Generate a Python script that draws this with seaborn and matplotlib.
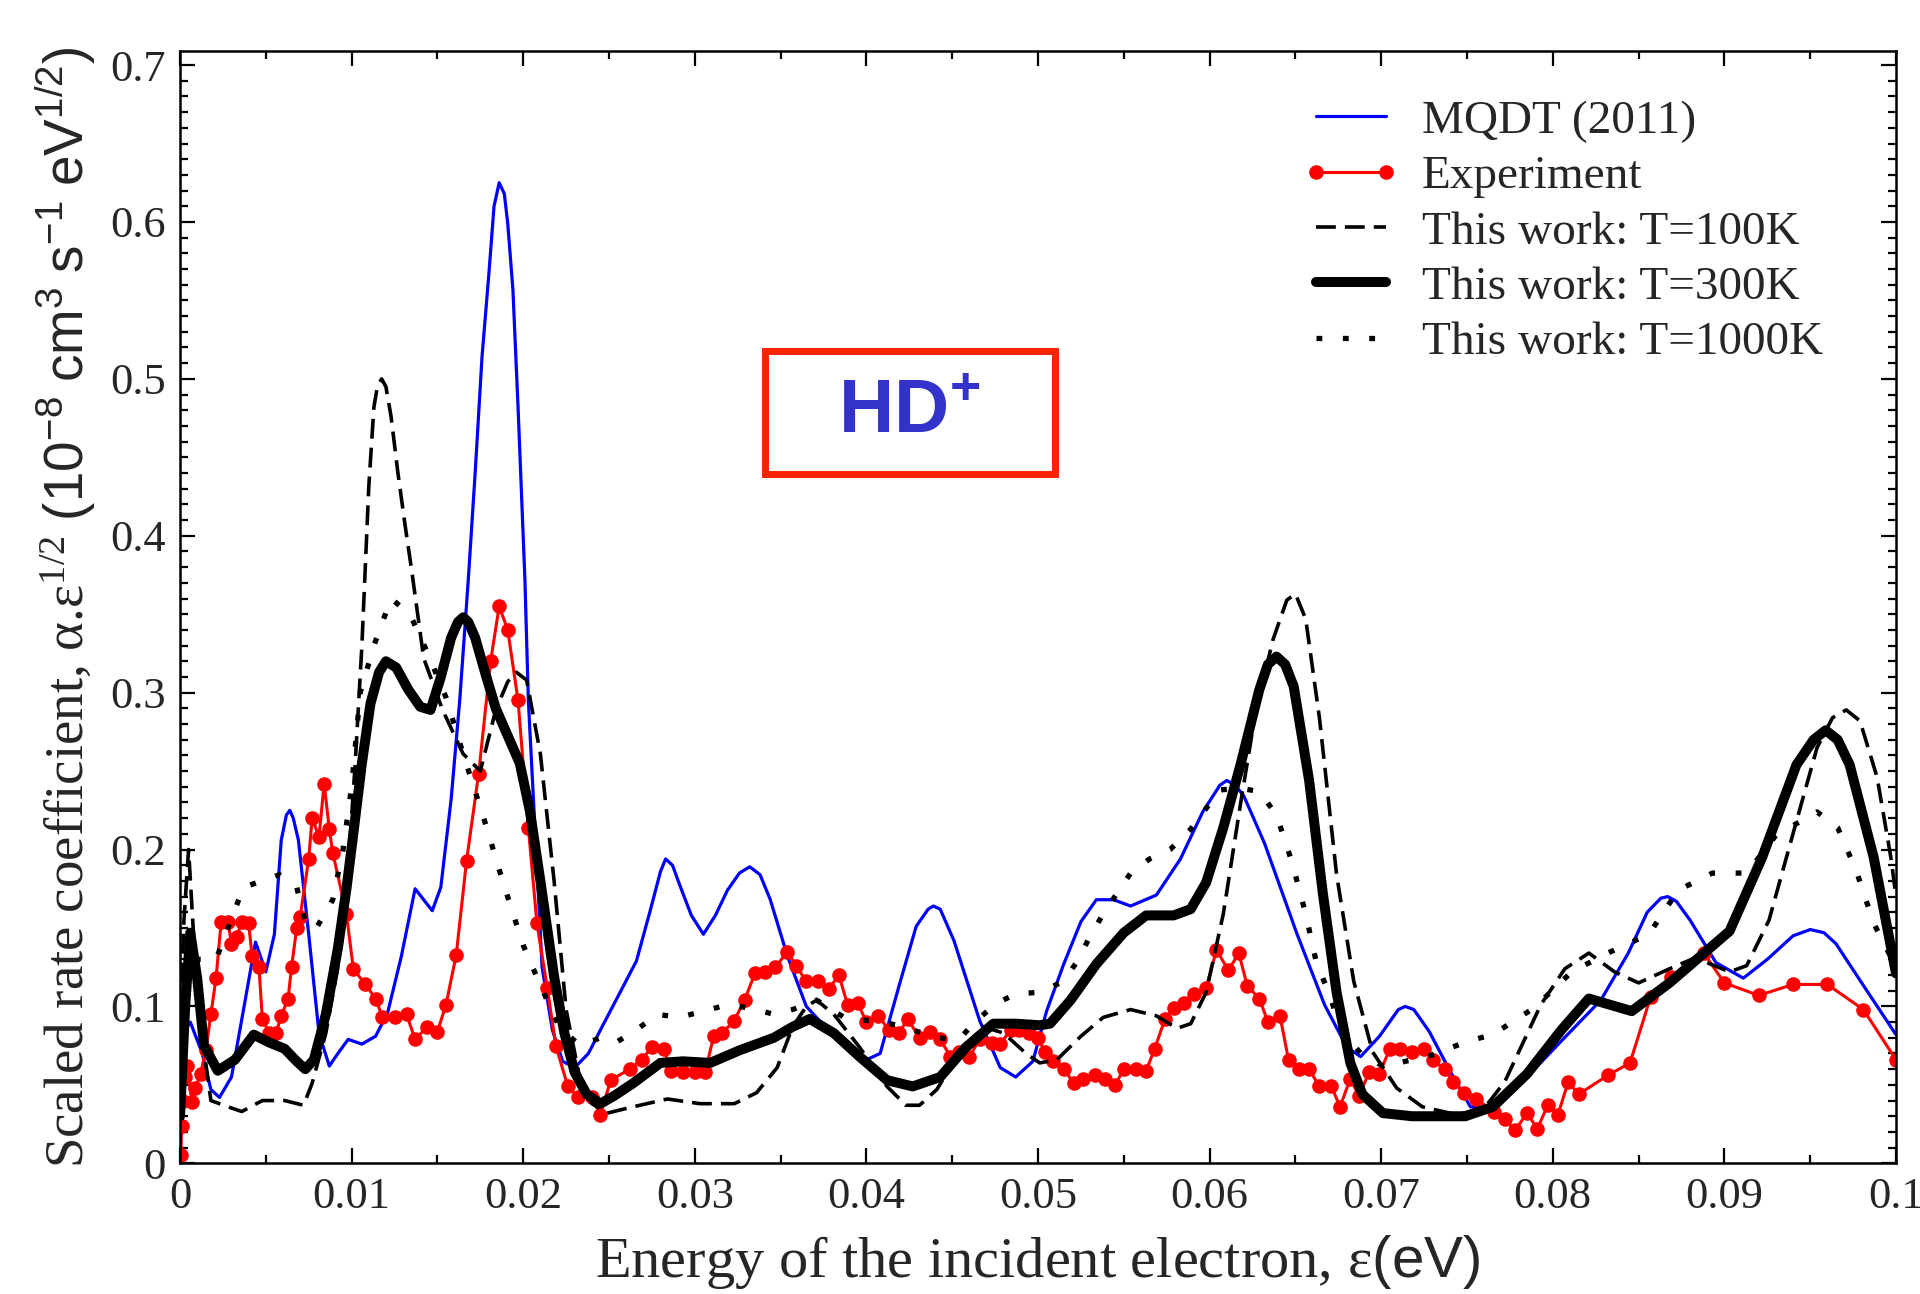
import matplotlib
matplotlib.use("Agg")
import matplotlib.pyplot as plt
import seaborn as sns
from matplotlib.patches import Rectangle
from matplotlib.ticker import FixedLocator, MultipleLocator

# ---------------- data ----------------
E_MQDT = [0.0, 0.0003, 0.0006, 0.0013, 0.0018, 0.0023, 0.0030, 0.0038, 0.0044, 0.0050,
          0.0055, 0.0059, 0.0062, 0.0064, 0.0066, 0.0069, 0.0075, 0.0081, 0.0087, 0.0092,
          0.0098, 0.0106, 0.0114, 0.0121, 0.0129, 0.0137, 0.0142, 0.0147, 0.0152, 0.0158,
          0.0163, 0.0168, 0.0172, 0.0176, 0.0180, 0.0183, 0.0186, 0.0189, 0.0191, 0.0194,
          0.0197, 0.0201, 0.0203, 0.0207, 0.0211, 0.0217, 0.0223, 0.0230, 0.0238, 0.0245,
          0.0256, 0.0266, 0.0274, 0.0280, 0.0283, 0.0287, 0.0291, 0.0298, 0.0305, 0.0312,
          0.0319, 0.0326, 0.0332, 0.0338, 0.0344, 0.0354, 0.0365, 0.0381, 0.0400, 0.0408,
          0.0419, 0.0429, 0.0436, 0.0439, 0.0443, 0.0451, 0.0466, 0.0478, 0.0487, 0.0497,
          0.0505, 0.0515, 0.0525, 0.0534, 0.0544, 0.0554, 0.0569, 0.0583, 0.0596, 0.0606,
          0.0610, 0.0615, 0.0620, 0.0632, 0.0651, 0.0667, 0.0680, 0.0688, 0.0699, 0.0710,
          0.0714, 0.0719, 0.0728, 0.0740, 0.0752, 0.0767, 0.0785, 0.0805, 0.0828, 0.0844,
          0.0855, 0.0863, 0.0867, 0.0872, 0.0880, 0.0895, 0.0911, 0.0925, 0.0940, 0.0950,
          0.0958, 0.0965, 0.0980, 0.1000]
V_MQDT = [0.060, 0.085, 0.090, 0.070, 0.047, 0.042, 0.055, 0.104, 0.141, 0.122,
          0.146, 0.206, 0.222, 0.225, 0.220, 0.206, 0.146, 0.083, 0.062, 0.070,
          0.079, 0.076, 0.081, 0.096, 0.132, 0.175, 0.168, 0.161, 0.176, 0.232,
          0.295, 0.372, 0.440, 0.514, 0.567, 0.610, 0.625, 0.618, 0.599, 0.557,
          0.482, 0.372, 0.295, 0.210, 0.125, 0.085, 0.065, 0.061, 0.070, 0.085,
          0.108, 0.129, 0.161, 0.186, 0.194, 0.190, 0.178, 0.158, 0.146, 0.158,
          0.174, 0.185, 0.189, 0.184, 0.168, 0.132, 0.100, 0.081, 0.066, 0.070,
          0.113, 0.151, 0.162, 0.164, 0.162, 0.142, 0.091, 0.061, 0.055, 0.065,
          0.097, 0.127, 0.154, 0.168, 0.168, 0.164, 0.171, 0.194, 0.224, 0.241,
          0.244, 0.241, 0.234, 0.204, 0.146, 0.101, 0.074, 0.068, 0.081, 0.098,
          0.100, 0.098, 0.084, 0.059, 0.036, 0.035, 0.055, 0.078, 0.104, 0.134,
          0.160, 0.169, 0.170, 0.167, 0.155, 0.128, 0.118, 0.130, 0.145, 0.149,
          0.147, 0.140, 0.115, 0.082]

E_EXP = [0.00005, 0.0001, 0.0002, 0.0003, 0.0004, 0.0007, 0.0009, 0.0012, 0.0015, 0.0018,
         0.0021, 0.0024, 0.0028, 0.0030, 0.0033, 0.0036, 0.0040, 0.0042, 0.0046, 0.0048,
         0.0052, 0.0056, 0.0059, 0.0063, 0.0065, 0.0068, 0.0070, 0.0075, 0.0077, 0.0081,
         0.0084, 0.0087, 0.0089, 0.0097, 0.0101, 0.0108, 0.0114, 0.0118, 0.0125, 0.0132,
         0.0137, 0.0144, 0.0150, 0.0155, 0.0161, 0.0167, 0.0174, 0.0181, 0.0186, 0.0191,
         0.0197, 0.0203, 0.0208, 0.0214, 0.0219, 0.0226, 0.0232, 0.0240, 0.0245, 0.0251,
         0.0262, 0.0269, 0.0275, 0.0282, 0.0286, 0.0293, 0.0300, 0.0306, 0.0311, 0.0316,
         0.0323, 0.0329, 0.0335, 0.0341, 0.0347, 0.0354, 0.0359, 0.0365, 0.0372, 0.0378,
         0.0384, 0.0389, 0.0395, 0.0400, 0.0407, 0.0413, 0.0419, 0.0424, 0.0431, 0.0437,
         0.0443, 0.0449, 0.0454, 0.0460, 0.0466, 0.0473, 0.0478, 0.0484, 0.0489, 0.0495,
         0.0500, 0.0504, 0.0509, 0.0515, 0.0521, 0.0526, 0.0533, 0.0539, 0.0545, 0.0550,
         0.0557, 0.0563, 0.0568, 0.0574, 0.0579, 0.0585, 0.0591, 0.0598, 0.0604, 0.0611,
         0.0617, 0.0622, 0.0629, 0.0634, 0.0641, 0.0646, 0.0652, 0.0658, 0.0664, 0.0671,
         0.0676, 0.0682, 0.0687, 0.0693, 0.0699, 0.0705, 0.0711, 0.0718, 0.0725, 0.0730,
         0.0737, 0.0742, 0.0748, 0.0755, 0.0766, 0.0772, 0.0778, 0.0785, 0.0791, 0.0797,
         0.0803, 0.0809, 0.0815, 0.0832, 0.0845, 0.0857, 0.0869, 0.0888, 0.0900, 0.0920,
         0.0940, 0.0960, 0.0981, 0.1000]
V_EXP = [0.005, 0.024, 0.040, 0.055, 0.062, 0.039, 0.048, 0.057, 0.072, 0.095,
         0.118, 0.154, 0.154, 0.140, 0.144, 0.154, 0.153, 0.132, 0.125, 0.092,
         0.083, 0.083, 0.094, 0.105, 0.125, 0.150, 0.157, 0.194, 0.220, 0.208,
         0.242, 0.213, 0.198, 0.159, 0.124, 0.114, 0.105, 0.093, 0.093, 0.095,
         0.079, 0.087, 0.084, 0.101, 0.133, 0.193, 0.248, 0.320, 0.355, 0.340,
         0.295, 0.214, 0.153, 0.112, 0.075, 0.049, 0.042, 0.042, 0.031, 0.053,
         0.060, 0.066, 0.074, 0.073, 0.059, 0.058, 0.058, 0.058, 0.081, 0.083,
         0.091, 0.104, 0.121, 0.122, 0.125, 0.135, 0.126, 0.116, 0.116, 0.111,
         0.120, 0.101, 0.102, 0.090, 0.094, 0.085, 0.083, 0.092, 0.080, 0.084,
         0.079, 0.068, 0.071, 0.068, 0.079, 0.077, 0.076, 0.085, 0.085, 0.083,
         0.080, 0.071, 0.065, 0.060, 0.051, 0.054, 0.056, 0.054, 0.050, 0.060,
         0.060, 0.059, 0.073, 0.092, 0.099, 0.102, 0.108, 0.112, 0.136, 0.123,
         0.134, 0.113, 0.105, 0.090, 0.094, 0.066, 0.060, 0.060, 0.049, 0.049,
         0.036, 0.054, 0.043, 0.058, 0.057, 0.073, 0.073, 0.071, 0.073, 0.066,
         0.060, 0.052, 0.045, 0.041, 0.033, 0.028, 0.021, 0.032, 0.022, 0.037,
         0.031, 0.052, 0.044, 0.056, 0.064, 0.106, 0.119, 0.134, 0.115, 0.107,
         0.114, 0.114, 0.098, 0.066]

E_T100 = [0.0, 0.0002, 0.0005, 0.0009, 0.0014, 0.0018, 0.0028, 0.0036, 0.0048, 0.0061,
          0.0072, 0.0077, 0.0085, 0.0092, 0.0098, 0.0102, 0.0106, 0.0110, 0.0113, 0.0115,
          0.01175, 0.0120, 0.0123, 0.0127, 0.0131, 0.0135, 0.0142, 0.0153, 0.0165, 0.0175,
          0.0184, 0.0191, 0.0196, 0.0202, 0.0210, 0.0218, 0.0225, 0.0233, 0.0240, 0.0249,
          0.0264, 0.0284, 0.0303, 0.0323, 0.0336, 0.0348, 0.0357, 0.0365, 0.0371, 0.0381,
          0.0396, 0.0412, 0.0423, 0.0431, 0.0441, 0.0454, 0.0468, 0.0480, 0.0493, 0.0501,
          0.0511, 0.0525, 0.0538, 0.0554, 0.0569, 0.0581, 0.0589, 0.0598, 0.0608, 0.0618,
          0.0627, 0.0637, 0.0645, 0.0650, 0.0656, 0.0664, 0.0674, 0.0684, 0.0695, 0.0709,
          0.0724, 0.0744, 0.0760, 0.0772, 0.0793, 0.0807, 0.0821, 0.0836, 0.0850, 0.0868,
          0.0883, 0.0903, 0.0913, 0.0926, 0.0942, 0.0954, 0.0963, 0.0971, 0.0979, 0.0989,
          0.0997, 0.1000]
V_T100 = [0.060, 0.150, 0.200, 0.125, 0.072, 0.040, 0.036, 0.033, 0.040, 0.040,
          0.037, 0.051, 0.083, 0.125, 0.189, 0.253, 0.330, 0.431, 0.482, 0.495,
          0.500, 0.495, 0.476, 0.440, 0.408, 0.378, 0.322, 0.289, 0.261, 0.250,
          0.289, 0.307, 0.313, 0.308, 0.261, 0.180, 0.098, 0.054, 0.038, 0.032,
          0.036, 0.041, 0.038, 0.038, 0.045, 0.061, 0.087, 0.100, 0.104, 0.095,
          0.074, 0.049, 0.037, 0.037, 0.047, 0.070, 0.087, 0.083, 0.070, 0.064,
          0.066, 0.081, 0.093, 0.098, 0.094, 0.086, 0.089, 0.109, 0.159, 0.229,
          0.289, 0.334, 0.359, 0.363, 0.347, 0.284, 0.184, 0.116, 0.071, 0.048,
          0.036, 0.031, 0.035, 0.052, 0.101, 0.124, 0.134, 0.122, 0.115, 0.124,
          0.131, 0.122, 0.126, 0.155, 0.218, 0.265, 0.284, 0.289, 0.282, 0.246,
          0.195, 0.170]

E_T300 = [0.0, 0.0003, 0.0006, 0.0010, 0.0014, 0.0022, 0.0032, 0.0043, 0.0052, 0.0061,
          0.0068, 0.0073, 0.0078, 0.0085, 0.0092, 0.0097, 0.0101, 0.0106, 0.0111, 0.0116,
          0.0120, 0.0126, 0.0133, 0.0140, 0.0146, 0.0152, 0.0158, 0.0162, 0.0165, 0.0168,
          0.0172, 0.0178, 0.0184, 0.0190, 0.0198, 0.0204, 0.0210, 0.0218, 0.0224, 0.0230,
          0.0237, 0.0245, 0.0253, 0.0264, 0.0280, 0.0293, 0.0309, 0.0326, 0.0346, 0.0357,
          0.0367, 0.0381, 0.0396, 0.0412, 0.0427, 0.0443, 0.0458, 0.0474, 0.0487, 0.0501,
          0.0507, 0.0519, 0.0534, 0.0550, 0.0563, 0.0579, 0.0589, 0.0598, 0.0608, 0.0618,
          0.0629, 0.0634, 0.0639, 0.0644, 0.0649, 0.0658, 0.0666, 0.0674, 0.0682, 0.0689,
          0.0701, 0.0718, 0.0749, 0.0765, 0.0785, 0.0805, 0.0821, 0.0846, 0.0868, 0.0885,
          0.0903, 0.0922, 0.0942, 0.0952, 0.0959, 0.0966, 0.0973, 0.0987, 0.1000]
V_T300 = [0.030, 0.100, 0.147, 0.118, 0.075, 0.059, 0.066, 0.082, 0.077, 0.073,
          0.065, 0.060, 0.066, 0.095, 0.137, 0.175, 0.210, 0.255, 0.293, 0.313,
          0.320, 0.316, 0.302, 0.291, 0.289, 0.310, 0.335, 0.345, 0.348, 0.345,
          0.335, 0.312, 0.290, 0.275, 0.255, 0.224, 0.180, 0.119, 0.083, 0.058,
          0.044, 0.038, 0.043, 0.051, 0.064, 0.065, 0.064, 0.072, 0.080, 0.087,
          0.092, 0.083, 0.068, 0.053, 0.049, 0.055, 0.074, 0.089, 0.089, 0.088,
          0.089, 0.104, 0.127, 0.147, 0.158, 0.158, 0.162, 0.179, 0.214, 0.254,
          0.302, 0.318, 0.323, 0.318, 0.304, 0.244, 0.172, 0.109, 0.064, 0.044,
          0.032, 0.030, 0.030, 0.036, 0.057, 0.085, 0.105, 0.097, 0.115, 0.131,
          0.148, 0.195, 0.254, 0.270, 0.276, 0.270, 0.254, 0.195, 0.121]

E_T1000 = [0.0, 0.0006, 0.0021, 0.0037, 0.0048, 0.0058, 0.0068, 0.0074, 0.0080, 0.0089,
           0.0095, 0.0100, 0.0105, 0.0113, 0.0123, 0.0134, 0.0144, 0.0155, 0.0165, 0.0177,
           0.0188, 0.0200, 0.0211, 0.0221, 0.0233, 0.0245, 0.0254, 0.0266, 0.0278, 0.0291,
           0.0305, 0.0319, 0.0332, 0.0346, 0.0357, 0.0371, 0.0387, 0.0400, 0.0414, 0.0427,
           0.0441, 0.0454, 0.0464, 0.0476, 0.0487, 0.0501, 0.0515, 0.0523, 0.0530, 0.0538,
           0.0554, 0.0565, 0.0577, 0.0589, 0.0606, 0.0618, 0.0629, 0.0639, 0.0648, 0.0656,
           0.0662, 0.0670, 0.0677, 0.0689, 0.0702, 0.0714, 0.0727, 0.0739, 0.0751, 0.0765,
           0.0789, 0.0811, 0.0832, 0.0856, 0.0873, 0.0893, 0.0913, 0.0930, 0.0954, 0.0966,
           0.0977, 0.0987, 0.1000]
V_T1000 = [0.100, 0.130, 0.130, 0.176, 0.180, 0.184, 0.176, 0.150, 0.151, 0.168,
           0.200, 0.240, 0.300, 0.330, 0.360, 0.350, 0.326, 0.297, 0.261, 0.220,
           0.180, 0.139, 0.111, 0.087, 0.075, 0.080, 0.077, 0.085, 0.095, 0.093,
           0.097, 0.101, 0.099, 0.095, 0.098, 0.104, 0.093, 0.091, 0.089, 0.085,
           0.080, 0.079, 0.091, 0.102, 0.108, 0.109, 0.116, 0.129, 0.144, 0.159,
           0.185, 0.194, 0.200, 0.213, 0.238, 0.239, 0.237, 0.222, 0.192, 0.159,
           0.129, 0.107, 0.084, 0.069, 0.0615, 0.065, 0.068, 0.073, 0.078, 0.082,
           0.099, 0.122, 0.134, 0.146, 0.174, 0.185, 0.185, 0.209, 0.224, 0.214,
           0.186, 0.153, 0.125]

SERIES_LABELS = ["MQDT (2011)", "Experiment", "This work: T=100K",
                 "This work: T=300K", "This work: T=1000K"]
XTICKS = [0.0, 0.01, 0.02, 0.03, 0.04, 0.05, 0.06, 0.07, 0.08, 0.09, 0.1]
XTICK_LABELS = ["0", "0.01", "0.02", "0.03", "0.04", "0.05", "0.06", "0.07", "0.08", "0.09", "0.1"]
YTICKS = [0.0, 0.1, 0.2, 0.3, 0.4, 0.5, 0.6, 0.7]
YTICK_LABELS = ["0", "0.1", "0.2", "0.3", "0.4", "0.5", "0.6", "0.7"]

# ---------------- style ----------------
sns.set_style("ticks")
plt.rcParams.update({
    "font.family": ["Liberation Serif", "DejaVu Serif"],
    "mathtext.fontset": "custom",
    "mathtext.rm": "Liberation Serif",
    "mathtext.it": "Liberation Serif:italic",
    "mathtext.bf": "Liberation Serif:bold",
    "mathtext.sf": "Liberation Sans",
    "mathtext.default": "regular",
    "axes.linewidth": 1.8,
    "axes.edgecolor": "black",
})

fig = plt.figure(figsize=(19.2, 12.94), dpi=100)
ax = fig.add_axes([0.09375, 0.101, 0.89375, 0.8596])

sns.lineplot(x=E_MQDT, y=V_MQDT, ax=ax, color="#0000ff", linewidth=2.3,
             label=SERIES_LABELS[0], sort=False, estimator=None,
             solid_joinstyle="round")
sns.lineplot(x=E_EXP, y=V_EXP, ax=ax, color="#ff0000", linewidth=2.2,
             marker="o", markersize=10.5, markeredgecolor="#ff0000", markeredgewidth=0,
             label=SERIES_LABELS[1], sort=False, estimator=None)
sns.lineplot(x=E_T100, y=V_T100, ax=ax, color="black", linewidth=2.6,
             linestyle=(0, (5.5, 2.5)), label=SERIES_LABELS[2], sort=False, estimator=None)
sns.lineplot(x=E_T1000, y=V_T1000, ax=ax, color="black", linewidth=3.8,
             linestyle=(0, (1.1, 3.9)), label=SERIES_LABELS[4], sort=False, estimator=None)
sns.lineplot(x=E_T300, y=V_T300, ax=ax, color="black", linewidth=7.2,
             label=SERIES_LABELS[3], sort=False, estimator=None,
             solid_joinstyle="round", solid_capstyle="round")

ax.set_xlim(0, 0.1)
ax.set_ylim(0, 0.709)
ax.xaxis.set_major_locator(FixedLocator(XTICKS))
ax.set_xticklabels(XTICK_LABELS)
ax.xaxis.set_minor_locator(MultipleLocator(0.005))
ax.yaxis.set_major_locator(FixedLocator(YTICKS))
ax.set_yticklabels(YTICK_LABELS)
ax.yaxis.set_minor_locator(MultipleLocator(0.01))
ax.tick_params(which="both", direction="in", top=True, right=True, width=1.6, color="black")
ax.tick_params(which="major", length=11, labelsize=32, pad=10)
ax.tick_params(which="minor", length=6)

ax.set_xlabel(r"Energy of the incident electron, ε$\mathsf{(eV)}$", fontsize=42)
ax.xaxis.set_label_coords(0.5, -0.063)
ax.set_ylabel(r"Scaled rate coefficient, α.ε$^{1/2}$ $\mathsf{(10^{-8}\ cm^{3}\ s^{-1}\ eV^{1/2})}$",
              fontsize=39.5)
ax.yaxis.set_label_coords(-0.048, 0.5)

# legend in reference order
handles, labels = ax.get_legend_handles_labels()
hmap = dict(zip(labels, handles))
ax.legend([hmap[l] for l in SERIES_LABELS], SERIES_LABELS, loc="upper left",
          bbox_to_anchor=(0.6535, 0.956), frameon=False, fontsize=34,
          handlelength=2.1, handletextpad=0.45, labelspacing=0.26,
          borderpad=0, borderaxespad=0, numpoints=2)

# HD+ label box
ax.add_patch(Rectangle((0.03407, 0.4396), 0.0169, 0.0784, fill=False,
                       edgecolor="#ff2200", linewidth=5, zorder=5))
ax.text(0.0425, 0.478, r"HD$^{+}$", ha="center", va="center", fontsize=55,
        fontweight="bold", family=["Liberation Sans", "DejaVu Sans"], color="#3333cc", zorder=6)

fig.savefig("out.png", dpi=100)
